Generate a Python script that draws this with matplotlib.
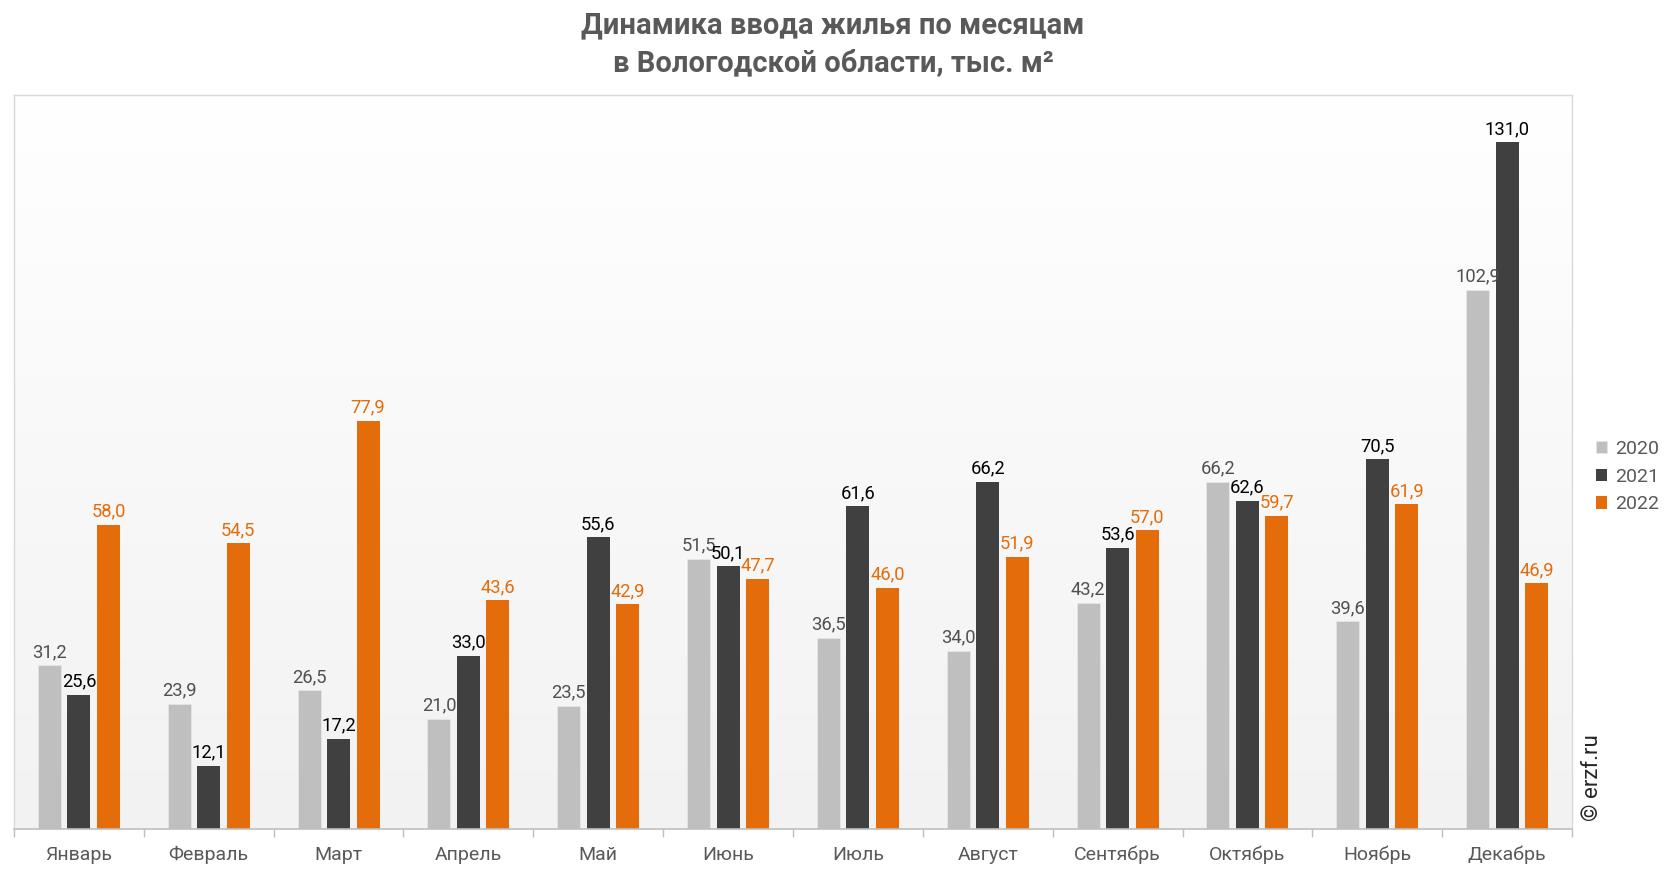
import numpy as np
import matplotlib
matplotlib.use("Agg")
import matplotlib.pyplot as plt
from matplotlib.colors import LinearSegmentedColormap

plt.rcParams["font.family"] = ["Roboto", "DejaVu Sans"]

MONTHS = ["Январь", "Февраль", "Март", "Апрель", "Май", "Июнь",
          "Июль", "Август", "Сентябрь", "Октябрь", "Ноябрь", "Декабрь"]
YEARS = ["2020", "2021", "2022"]
V2020 = [31.2, 23.9, 26.5, 21.0, 23.5, 51.5, 36.5, 34.0, 43.2, 66.2, 39.6, 102.9]
V2021 = [25.6, 12.1, 17.2, 33.0, 55.6, 50.1, 61.6, 66.2, 53.6, 62.6, 70.5, 131.0]
V2022 = [58.0, 54.5, 77.9, 43.6, 42.9, 47.7, 46.0, 51.9, 57.0, 59.7, 61.9, 46.9]

BAR_COLORS = ["#bfbfbf", "#404040", "#e46c0a"]
LABEL_COLORS = ["#505050", "#000000", "#e46c0a"]

fig = plt.figure(figsize=(16.66, 8.72), dpi=100)
ax = fig.add_axes([14 / 1666, 43 / 872, 1558 / 1666, 734 / 872])

x = np.arange(len(MONTHS))
width = 0.177
step = 0.227
ymax = 140

# gradient background
cmap = LinearSegmentedColormap.from_list("bg", ["#f2f2f2", "#ffffff"])
grad = np.linspace(0, 1, 256).reshape(-1, 1)
ax.imshow(grad, cmap=cmap, aspect="auto", origin="lower",
          extent=[-0.5, len(MONTHS) - 0.5, 0, ymax], zorder=0)

for k, (vals, yr) in enumerate(zip([V2020, V2021, V2022], YEARS)):
    xs = x + (k - 1) * step
    ax.bar(xs, vals, width, color=BAR_COLORS[k], label=yr, zorder=2,
           edgecolor="#e6e6e6" if k == 0 else "none", linewidth=0.6)
    for xi, v in zip(xs, vals):
        s = f"{v:.1f}".replace(".", ",")
        ax.annotate(s, (xi, v), xytext=(0, 3), textcoords="offset points",
                    ha="center", va="bottom", fontsize=13.2,
                    color=LABEL_COLORS[k], zorder=3)

ax.set_xlim(-0.5, len(MONTHS) - 0.5)
ax.set_ylim(0, ymax)
ax.set_yticks([])
ax.set_xticks(np.arange(-0.5, len(MONTHS)), minor=False)
ax.set_xticklabels([])
ax.set_xticks(x, minor=True)
ax.set_xticklabels(MONTHS, minor=True, fontsize=14, color="#595959")
ax.tick_params(axis="x", which="major", length=6, color="#bfbfbf", width=1)
ax.tick_params(axis="x", which="minor", length=0, pad=12)

for side in ["left", "top", "right"]:
    ax.spines[side].set_color("#d9d9d9")
    ax.spines[side].set_linewidth(1)
ax.spines["bottom"].set_color("#bfbfbf")
ax.spines["bottom"].set_linewidth(1.2)

fig.text(0.5, 0.987, "Динамика ввода жилья по месяцам\nв Вологодской области, тыс. м²",
         ha="center", va="top", fontsize=21, fontweight="bold", color="#595959",
         linespacing=1.45)

ax.legend(loc="center left", bbox_to_anchor=(1.004, 0.48), frameon=False,
          fontsize=14, handlelength=0.6, handleheight=0.6, handletextpad=0.4,
          labelspacing=0.5, labelcolor="#595959")

fig.text(1592 / 1666, 1 - 778 / 872, "© erzf.ru", rotation=90, ha="center",
         va="center", fontsize=16, color="#262626")

fig.savefig("out.png", dpi=100, facecolor="white")
